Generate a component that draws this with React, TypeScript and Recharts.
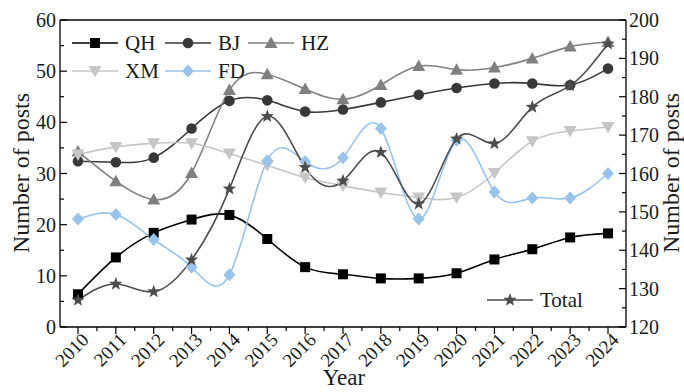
import React from 'react';
import { LineChart, Line, XAxis, YAxis, ReferenceLine } from 'recharts';

const years = [2010, 2011, 2012, 2013, 2014, 2015, 2016, 2017, 2018, 2019, 2020, 2021, 2022, 2023, 2024];
const qh = [6.4, 13.6, 18.4, 21.0, 21.9, 17.2, 11.7, 10.3, 9.5, 9.5, 10.5, 13.2, 15.2, 17.5, 18.3];
const bj = [32.4, 32.2, 33.1, 38.8, 44.2, 44.3, 42.1, 42.5, 43.9, 45.4, 46.7, 47.6, 47.6, 47.3, 50.5];
const hz = [34.3, 28.5, 24.9, 30.1, 46.3, 49.4, 46.5, 44.5, 47.3, 51.0, 50.3, 50.7, 52.5, 54.8, 55.7];
const xm = [33.7, 35.2, 35.9, 35.9, 33.9, 31.6, 29.2, 27.6, 26.3, 25.3, 25.3, 30.1, 36.3, 38.3, 39.1];
const fd = [21.1, 22.0, 17.1, 11.7, 10.2, 32.5, 32.3, 33.1, 38.8, 21.1, 36.5, 26.4, 25.2, 25.2, 30.0];
const total = [127.0, 131.2, 129.2, 137.5, 156.0, 174.9, 161.6, 158.1, 165.5, 152.1, 169.0, 167.8, 177.3, 182.9, 193.8];

const leftTicks = [0, 5, 10, 15, 20, 25, 30, 35, 40, 45, 50, 55, 60];
const rightTicks = [120, 125, 130, 135, 140, 145, 150, 155, 160, 165, 170, 175, 180, 185, 190, 195, 200];
// majors on the years, minors half way between
const xTicks = [...years, ...years.slice(0, -1).map((y) => y + 0.5)];

const FONT = '"Liberation Serif", "Times New Roman", serif';
const INK = '#1a1a1a';

const series = [
  { key: 'QH', values: qh, color: '#000000', marker: 'square', axis: 'left' },
  { key: 'BJ', values: bj, color: '#383838', marker: 'circle', axis: 'left' },
  { key: 'HZ', values: hz, color: '#808080', marker: 'up', axis: 'left' },
  { key: 'XM', values: xm, color: '#c6c6c6', marker: 'down', axis: 'left' },
  { key: 'FD', values: fd, color: '#98c3ea', marker: 'diamond', axis: 'left' },
  { key: 'Total', values: total, color: '#4d4d4d', marker: 'star', axis: 'right' },
];

const data = years.map((year, i) => {
  const row: any = { year };
  series.forEach((s) => { row[s.key] = s.values[i]; });
  return row;
});

function Marker({ kind, cx, cy, color }: { kind: string; cx: number; cy: number; color: string }) {
  if (cx == null || cy == null) return null;
  switch (kind) {
    case 'square':
      return <rect x={cx - 5} y={cy - 5} width={10} height={10} fill={color} />;
    case 'circle':
      return <circle cx={cx} cy={cy} r={5.3} fill={color} />;
    case 'up':
      return <polygon points={`${cx},${cy - 6.5} ${cx + 6.5},${cy + 5} ${cx - 6.5},${cy + 5}`} fill={color} />;
    case 'down':
      return <polygon points={`${cx},${cy + 6.5} ${cx + 6.5},${cy - 5} ${cx - 6.5},${cy - 5}`} fill={color} />;
    case 'diamond':
      return <polygon points={`${cx},${cy - 6.5} ${cx + 6},${cy} ${cx},${cy + 6.5} ${cx - 6},${cy}`} fill={color} />;
    case 'star': {
      const pts = [];
      for (let k = 0; k < 10; k++) {
        const r = k % 2 === 0 ? 7 : 2.9;
        const a = -Math.PI / 2 + (k * Math.PI) / 5;
        pts.push(`${cx + r * Math.cos(a)},${cy + r * Math.sin(a)}`);
      }
      return <polygon points={pts.join(' ')} fill={color} />;
    }
    default:
      return null;
  }
}

const XTick = ({ x, y, payload }: any) => {
  const major = Number.isInteger(payload.value);
  return (
    <g>
      <line x1={x} x2={x} y1={y} y2={y + (major ? 7 : 4)} stroke="#000" strokeWidth={1.2} />
      {major && (
        <text
          x={x + 12}
          y={y + 14}
          transform={`rotate(-45 ${x + 12} ${y + 14})`}
          textAnchor="end"
          fontFamily={FONT}
          fontSize={19}
          fill={INK}
        >
          {payload.value}
        </text>
      )}
    </g>
  );
};

const LeftTick = ({ x, y, payload }: any) => {
  const major = payload.value % 10 === 0;
  return (
    <g>
      <line x1={x} x2={x + (major ? 7 : 4)} y1={y} y2={y} stroke="#000" strokeWidth={1.2} />
      {major && (
        <text x={x - 4} y={y} dy="0.35em" textAnchor="end" fontFamily={FONT} fontSize={20} fill={INK}>
          {payload.value}
        </text>
      )}
    </g>
  );
};

const RightTick = ({ x, y, payload }: any) => {
  const major = payload.value % 10 === 0;
  return (
    <g>
      <line x1={x} x2={x - (major ? 7 : 4)} y1={y} y2={y} stroke="#000" strokeWidth={1.2} />
      {major && (
        <text x={x + 3} y={y} dy="0.35em" textAnchor="start" fontFamily={FONT} fontSize={20} fill={INK}>
          {payload.value}
        </text>
      )}
    </g>
  );
};

function LegendItem({ x, y, s }: { x: number; y: number; s: any }) {
  return (
    <g>
      <line x1={x} x2={x + 46} y1={y} y2={y} stroke={s.color} strokeWidth={1.5} />
      <Marker kind={s.marker} cx={x + 23} cy={y} color={s.color} />
      <text x={x + 53} y={y} dy="0.35em" fontFamily={FONT} fontSize={21} fill={INK}>
        {s.key}
      </text>
    </g>
  );
}

export default function App() {
  const byKey = (k: string) => series.find((s) => s.key === k);
  return (
    <div style={{ position: 'absolute', left: 0, top: 0, width: 684, height: 392, background: '#fff' }}>
      <LineChart width={684} height={392} data={data} margin={{ top: 20, right: 0, bottom: 0, left: 0 }}>
        <XAxis
          dataKey="year"
          type="number"
          domain={[2009.525, 2024.475]}
          ticks={xTicks}
          interval={0}
          height={65}
          tickSize={0}
          tickMargin={0}
          tickLine={false}
          axisLine={{ stroke: '#000', strokeWidth: 1.3 }}
          tick={<XTick />}
        />
        <YAxis
          yAxisId="left"
          domain={[0, 60]}
          ticks={leftTicks}
          interval={0}
          width={60}
          tickSize={0}
          tickMargin={0}
          tickLine={false}
          axisLine={{ stroke: '#000', strokeWidth: 1.3 }}
          tick={<LeftTick />}
        />
        <YAxis
          yAxisId="right"
          orientation="right"
          domain={[120, 200]}
          ticks={rightTicks}
          interval={0}
          width={58}
          tickSize={0}
          tickMargin={0}
          tickLine={false}
          axisLine={{ stroke: '#000', strokeWidth: 1.3 }}
          tick={<RightTick />}
        />
        <ReferenceLine yAxisId="left" y={60} stroke="#000" strokeWidth={1.3} />
        {series.map((s) => (
          <Line
            key={s.key}
            yAxisId={s.axis}
            dataKey={s.key}
            type="natural"
            stroke={s.color}
            strokeWidth={1.6}
            isAnimationActive={false}
            dot={(p: any) => <Marker key={`${s.key}-${p.index}`} kind={s.marker} cx={p.cx} cy={p.cy} color={s.color} />}
            activeDot={false}
          />
        ))}
      </LineChart>
      <svg width={684} height={392} style={{ position: 'absolute', left: 0, top: 0, pointerEvents: 'none' }}>
        <LegendItem x={72} y={43} s={byKey('QH')} />
        <LegendItem x={165} y={43} s={byKey('BJ')} />
        <LegendItem x={248} y={43} s={byKey('HZ')} />
        <LegendItem x={72} y={71} s={byKey('XM')} />
        <LegendItem x={165} y={71} s={byKey('FD')} />
        <LegendItem x={487} y={300} s={byKey('Total')} />
        <text transform="translate(29,173) rotate(-90)" textAnchor="middle" fontFamily={FONT} fontSize={24} fill={INK}>
          Number of posts
        </text>
        <text transform="translate(679,173) rotate(-90)" textAnchor="middle" fontFamily={FONT} fontSize={24} fill={INK}>
          Number of posts
        </text>
        <text x={344} y={385} textAnchor="middle" fontFamily={FONT} fontSize={23} fill={INK}>
          Year
        </text>
      </svg>
    </div>
  );
}
